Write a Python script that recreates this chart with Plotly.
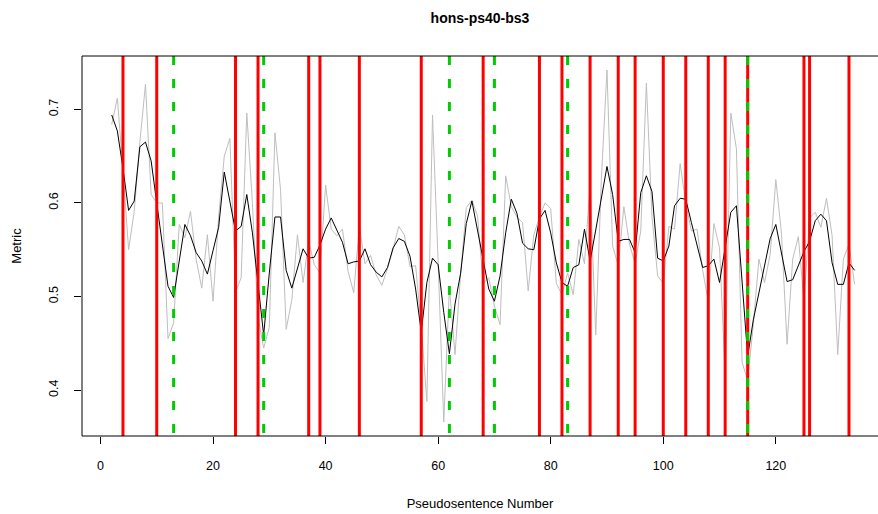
import plotly.graph_objects as go

# ---------------- data ----------------
x_start = 2
raw_metric = [
    0.684, 0.712, 0.635, 0.550, 0.591, 0.665, 0.727, 0.609, 0.600, 0.600,   # 2-11
    0.455, 0.472, 0.577, 0.563, 0.591, 0.540, 0.509, 0.566, 0.495, 0.585,   # 12-21
    0.650, 0.669, 0.505, 0.520, 0.696, 0.600, 0.478, 0.445, 0.467, 0.675,   # 22-31
    0.614, 0.465, 0.496, 0.566, 0.515, 0.559, 0.534, 0.525, 0.619, 0.572,   # 32-41
    0.565, 0.572, 0.527, 0.504, 0.575, 0.535, 0.544, 0.523, 0.512, 0.530,   # 42-51
    0.551, 0.575, 0.566, 0.532, 0.533, 0.468, 0.388, 0.694, 0.537, 0.366,   # 52-61
    0.510, 0.438, 0.525, 0.595, 0.603, 0.586, 0.514, 0.520, 0.490, 0.470,   # 62-71
    0.629, 0.596, 0.585, 0.579, 0.506, 0.566, 0.585, 0.600, 0.594, 0.514,   # 72-81
    0.502, 0.525, 0.502, 0.561, 0.535, 0.620, 0.459, 0.625, 0.742, 0.554,   # 82-91
    0.533, 0.596, 0.556, 0.535, 0.570, 0.728, 0.585, 0.522, 0.514, 0.575,   # 92-101
    0.572, 0.642, 0.600, 0.570, 0.572, 0.528, 0.495, 0.578, 0.552, 0.416,   # 102-111
    0.696, 0.658, 0.430, 0.410, 0.470, 0.540, 0.515, 0.545, 0.625, 0.568,   # 112-121
    0.449, 0.540, 0.564, 0.495, 0.584, 0.590, 0.574, 0.605, 0.565, 0.438,   # 122-131
    0.540, 0.556, 0.513,                                                     # 132-134
]
smoothed_metric = [
    0.694, 0.677, 0.637, 0.592, 0.602, 0.660, 0.665, 0.645, 0.600, 0.554,   # 2-11
    0.511, 0.499, 0.538, 0.577, 0.565, 0.547, 0.538, 0.524, 0.549, 0.574,   # 12-21
    0.633, 0.602, 0.570, 0.575, 0.609, 0.568, 0.512, 0.459, 0.525, 0.585,   # 22-31
    0.585, 0.528, 0.509, 0.531, 0.551, 0.541, 0.542, 0.555, 0.572, 0.584,   # 32-41
    0.570, 0.558, 0.535, 0.537, 0.538, 0.551, 0.534, 0.526, 0.521, 0.531,   # 42-51
    0.552, 0.562, 0.559, 0.543, 0.508, 0.462, 0.515, 0.541, 0.534, 0.483,   # 52-61
    0.439, 0.492, 0.525, 0.578, 0.602, 0.570, 0.540, 0.508, 0.495, 0.522,   # 62-71
    0.568, 0.604, 0.589, 0.557, 0.551, 0.550, 0.583, 0.592, 0.568, 0.536,   # 72-81
    0.515, 0.511, 0.531, 0.534, 0.572, 0.538, 0.571, 0.607, 0.639, 0.609,   # 82-91
    0.559, 0.561, 0.561, 0.547, 0.611, 0.629, 0.612, 0.541, 0.538, 0.554,   # 92-101
    0.597, 0.605, 0.604, 0.579, 0.556, 0.531, 0.533, 0.540, 0.515, 0.554,   # 102-111
    0.590, 0.597, 0.519, 0.436, 0.475, 0.505, 0.534, 0.562, 0.577, 0.547,   # 112-121
    0.516, 0.518, 0.532, 0.548, 0.559, 0.581, 0.588, 0.581, 0.536, 0.513,   # 122-131
    0.513, 0.536, 0.528,                                                     # 132-134
]
pseudosentence = list(range(x_start, x_start + len(raw_metric)))

red_boundaries = [4, 10, 24, 28, 37, 39, 46, 57, 68, 78, 82, 87, 92, 95,
                  100, 104, 108, 111, 115, 125, 126, 133]
green_boundaries = [13, 29, 62, 70, 83, 115]

x_ticks = [0, 20, 40, 60, 80, 100, 120]
y_ticks = [0.4, 0.5, 0.6, 0.7]
y_tick_labels = ["0.4", "0.5", "0.6", "0.7"]

title_text = "hons-ps40-bs3"
x_title = "Pseudosentence Number"
y_title = "Metric"

# ---------------- figure ----------------
FONT = "Liberation Sans, Arial, Helvetica, sans-serif"
W, H = 878, 514
ML, MR, MT, MB = 82, 0, 56, 78

fig = go.Figure()
fig.add_trace(go.Scatter(x=pseudosentence, y=raw_metric, mode="lines",
                         line=dict(color="#BEBEBE", width=1), hoverinfo="skip",
                         showlegend=False))
fig.add_trace(go.Scatter(x=pseudosentence, y=smoothed_metric, mode="lines",
                         line=dict(color="#000000", width=1), showlegend=False))

shapes = []
for xb in red_boundaries:
    shapes.append(dict(type="line", xref="x", yref="paper", x0=xb, x1=xb, y0=1, y1=0,
                       line=dict(color="#FF0000", width=3), layer="above"))
for xb in green_boundaries:
    shapes.append(dict(type="line", xref="x", yref="paper", x0=xb, x1=xb, y0=1, y1=0,
                       line=dict(color="#00CD00", width=3, dash="9px,14px"), layer="above"))
# plot box (right edge lies outside the picture)
box = dict(color="#000000", width=1)
shapes.append(dict(type="line", xref="paper", yref="paper", x0=0, x1=1, y0=1, y1=1, line=box, layer="above"))
shapes.append(dict(type="line", xref="paper", yref="paper", x0=0, x1=1, y0=0, y1=0, line=box, layer="above"))
shapes.append(dict(type="line", xref="paper", yref="paper", x0=0, x1=0, y0=0, y1=1, line=box, layer="above"))

px_per_unit = 5.628
x_lo = -3.28
x_hi = x_lo + (W - ML - MR) / px_per_unit

fig.update_layout(
    width=W, height=H,
    margin=dict(l=ML, r=MR, t=MT, b=MB, pad=0),
    paper_bgcolor="white", plot_bgcolor="white",
    font=dict(family=FONT, size=12, color="#000000"),
    shapes=shapes,
    title=dict(text="<b>" + title_text + "</b>", x=(480 - ML) / (W - ML - MR), xref="paper",
               xanchor="center", y=1 - 18 / H, yref="container", yanchor="middle",
               font=dict(family=FONT, size=14, color="#000000")),
    xaxis=dict(range=[x_lo, x_hi], tickvals=x_ticks, ticks="outside", ticklen=7,
               tickwidth=1, tickcolor="#000000", showgrid=False, zeroline=False,
               showline=False, tickfont=dict(size=12.5), ticklabelstandoff=11,
               title=dict(text=x_title, standoff=26, font=dict(size=13))),
    yaxis=dict(range=[0.351, 0.757], tickvals=y_ticks, ticktext=y_tick_labels,
               ticks="outside", ticklen=7, tickwidth=1, tickcolor="#000000",
               showgrid=False, zeroline=False, showline=False, tickangle=-90,
               tickfont=dict(size=12.5), ticklabelstandoff=11,
               title=dict(text=y_title, standoff=22, font=dict(size=13))),
)

fig.write_html("out.html")
